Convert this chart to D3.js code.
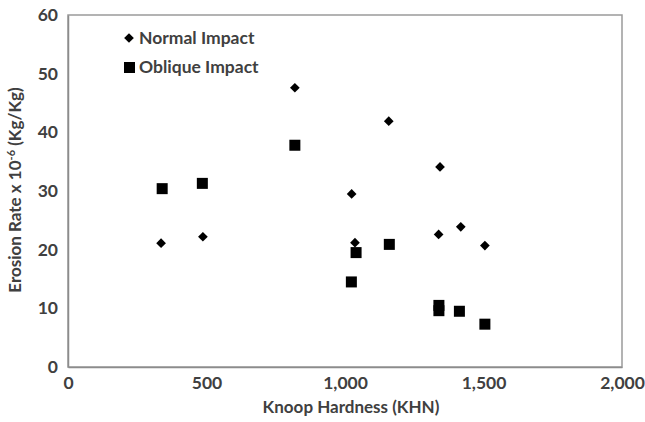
<!DOCTYPE html>
<html>
<head>
<meta charset="utf-8">
<script src="https://cdn.jsdelivr.net/npm/d3@7"></script>
<style>
  html, body { margin: 0; padding: 0; background: #fff; }
  svg { display: block; }
  text { font-family: Lato, "Open Sans", sans-serif; font-weight: bold; fill: #404040; }
</style>
</head>
<body>
<svg id="chart" width="645" height="422"></svg>
<script>
// Knoop hardness (KHN) vs. erosion rate (x10^-6 Kg/Kg)
const normalHardness = [336, 487, 819, 1024, 1036, 1158, 1343, 1338, 1418, 1505];
const normalRate     = [21.1, 22.2, 47.6, 29.5, 21.2, 41.9, 34.1, 22.6, 23.9, 20.7];

const obliqueHardness = [340, 485, 819, 1023, 1040, 1160, 1339, 1339, 1413, 1505];
const obliqueRate     = [30.4, 31.3, 37.8, 14.5, 19.5, 20.9, 10.5, 9.6, 9.5, 7.3];

const xTicks = [0, 500, 1000, 1500, 2000];
const yTicks = [0, 10, 20, 30, 40, 50, 60];
const seriesNames = ["Normal Impact", "Oblique Impact"];

const svg = d3.select("#chart");
const m = { left: 68, right: 622, top: 15, bottom: 367 };

const x = d3.scaleLinear().domain([0, 2000]).range([m.left, m.right]);
const y = d3.scaleLinear().domain([0, 60]).range([m.bottom, m.top]);

// plot frame
svg.append("rect")
  .attr("x", m.left).attr("y", m.top)
  .attr("width", m.right - m.left).attr("height", m.bottom - m.top)
  .attr("fill", "none").attr("stroke", "#9a9a9a").attr("stroke-width", 1.5);

// axes
const fmt = d3.format(",");
const xAxis = svg.append("g").attr("transform", `translate(0,${m.bottom})`)
  .call(d3.axisBottom(x).tickValues(xTicks).tickFormat(fmt).tickSize(0).tickPadding(10));
const yAxis = svg.append("g").attr("transform", `translate(${m.left},0)`)
  .call(d3.axisLeft(y).tickValues(yTicks).tickSize(0).tickPadding(10));
[xAxis, yAxis].forEach(g => {
  g.select(".domain").attr("stroke", "#8c8c8c").attr("stroke-width", 1.5);
  g.selectAll("text").attr("font-size", 17.5).attr("fill", "#404040")
    .attr("font-family", "Lato, 'Open Sans', sans-serif").attr("font-weight", "bold");
});

// axis titles
svg.append("text")
  .attr("x", 351).attr("y", 413)
  .attr("text-anchor", "middle").attr("font-size", 17)
  .text("Knoop Hardness (KHN)");

const yTitle = svg.append("text")
  .attr("transform", `translate(21,190) rotate(-90)`)
  .attr("text-anchor", "middle").attr("font-size", 17);
yTitle.append("tspan").text("Erosion Rate x 10");
yTitle.append("tspan").attr("font-size", 11).attr("dy", -6).text("-6");
yTitle.append("tspan").attr("dy", 6).text(" (Kg/Kg)");

const diamond = d3.symbol().type(d3.symbolDiamond2).size(60);

// normal impact (diamonds)
svg.append("g").selectAll("path")
  .data(normalHardness.map((h, i) => [h, normalRate[i]]))
  .join("path")
  .attr("d", diamond)
  .attr("transform", d => `translate(${x(d[0])},${y(d[1])})`)
  .attr("fill", "#000");

// oblique impact (squares)
const sq = 11;
svg.append("g").selectAll("rect")
  .data(obliqueHardness.map((h, i) => [h, obliqueRate[i]]))
  .join("rect")
  .attr("x", d => x(d[0]) - sq / 2).attr("y", d => y(d[1]) - sq / 2)
  .attr("width", sq).attr("height", sq)
  .attr("fill", "#000");

// legend
const leg = svg.append("g");
leg.append("path").attr("d", diamond).attr("transform", "translate(129,38)").attr("fill", "#000");
leg.append("text").attr("x", 139).attr("y", 44).attr("font-size", 17.5).attr("fill", "#000").text(seriesNames[0]);
leg.append("rect").attr("x", 124).attr("y", 62).attr("width", sq).attr("height", sq).attr("fill", "#000");
leg.append("text").attr("x", 139).attr("y", 73).attr("font-size", 17.5).attr("fill", "#000").text(seriesNames[1]);
</script>
</body>
</html>
